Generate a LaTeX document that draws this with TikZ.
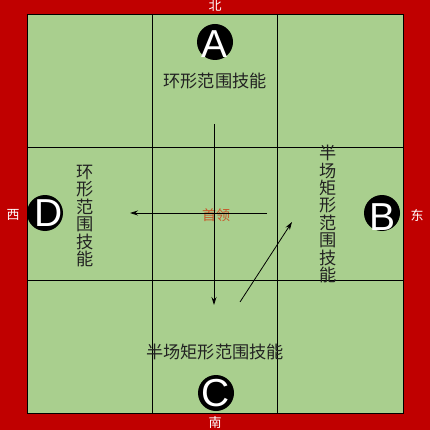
\documentclass[tikz,border=0pt]{standalone}
\usepackage{fontspec}
\setmainfont{Liberation Sans}
\newfontfamily\cjk{Noto Sans CJK SC}
\usetikzlibrary{arrows.meta}
\definecolor{courtred}{HTML}{C00000}
\definecolor{courtgreen}{HTML}{A9CF8E}
\definecolor{bosscol}{RGB}{200,85,40}
\definecolor{txtcol}{HTML}{222222}
\tikzset{
  grid line/.style={black, line width=0.8pt},
  move arrow/.style={black, line width=0.8pt, -{Stealth[length=8pt,width=5pt]}},
  player/.style={circle, fill=black, minimum size=36pt, inner sep=0pt},
  letter/.style={text=white, font=\fontsize{39}{39}\selectfont, inner sep=0pt},
  dirlabel/.style={text=white, font=\cjk\fontsize{13}{13}\selectfont, inner sep=0pt},
  skilltext/.style={text=txtcol, font=\cjk\fontsize{17.2}{17.4}\selectfont, inner sep=0pt, align=center},
}
\begin{document}
\begin{tikzpicture}[x=1pt,y=-1pt]
\useasboundingbox (0,0) rectangle (430,430);
\fill[courtred] (0,0) rectangle (430,430);
\fill[courtgreen] (27,14) rectangle (403,413);
% grid
\draw[grid line] (27,14) rectangle (403,413);
\draw[grid line] (152.7,14) -- (152.7,413);
\draw[grid line] (277.7,14) -- (277.7,413);
\draw[grid line] (27,147) -- (403,147);
\draw[grid line] (27,280.3) -- (403,280.3);
% direction labels
\node[dirlabel] (north) at (215,6) {北};
\node[dirlabel] (south) at (215,423) {南};
\node[dirlabel] (west) at (13,215) {西};
\node[dirlabel] (east) at (417,215) {东};
% players
\node[player] (pA) at (215,42) {};
\node[letter] (lA) at (215,44) {A};
\node[player] (pD) at (45,213) {};
\node[letter] (lD) at (49,213) {D};
\node[player] (pB) at (382,213) {};
\node[letter] (lB) at (382,217) {B};
\node[player] (pC) at (216,393) {};
\node[letter] (lC) at (216,393) {C};
% skill texts
\node[skilltext] (tA) at (215,81) {环形范围技能};
\node[skilltext] (tD) at (85,216) {环\\形\\范\\围\\技\\能};
\node[skilltext] (tB) at (328,214) {半\\场\\矩\\形\\范\\围\\技\\能};
\node[skilltext] (tC) at (215,352) {半场矩形范围技能};
% boss
\node[text=bosscol, font=\cjk\fontsize{14}{14}\selectfont, inner sep=0pt] (boss) at (216,215) {首领};
% movement arrows
\coordinate (v1) at (214,124);
\coordinate (v2) at (214,305);
\coordinate (h1) at (267,213);
\coordinate (h2) at (130,213);
\coordinate (d1) at (240,302);
\coordinate (d2) at (292,222);
\draw[move arrow] (v1) -- (v2);
\draw[move arrow] (h1) -- (h2);
\draw[move arrow] (d1) -- (d2);
\end{tikzpicture}
\end{document}
